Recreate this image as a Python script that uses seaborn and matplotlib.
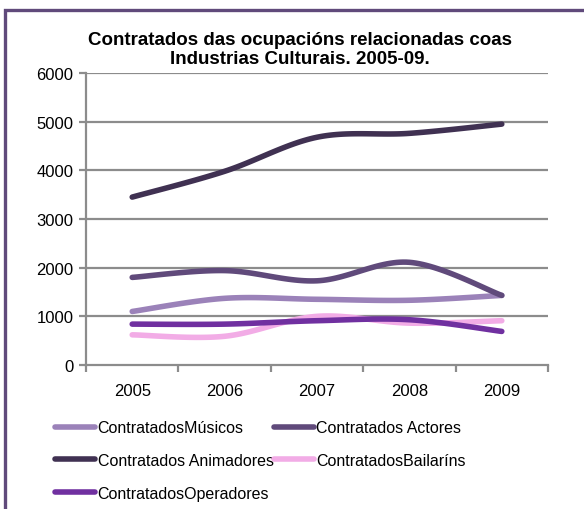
import matplotlib
matplotlib.use("Agg")
import matplotlib.pyplot as plt
import numpy as np
import pandas as pd
import seaborn as sns
from matplotlib.patches import Rectangle
from matplotlib.ticker import FixedLocator

years = [2005, 2006, 2007, 2008, 2009]
musicos = [1100, 1370, 1350, 1330, 1430]
actores = [1800, 1940, 1730, 2110, 1430]
animadores = [3450, 3980, 4680, 4760, 4950]
bailarins = [620, 590, 1000, 860, 910]
operadores = [840, 840, 910, 930, 690]

labels = ["ContratadosMúsicos", "Contratados Actores", "Contratados Animadores",
          "ContratadosBailaríns", "ContratadosOperadores"]
colors = ["#9B82B9", "#604A7B", "#403152", "#F2ACE6", "#7030A0"]
series = [musicos, actores, animadores, bailarins, operadores]
yticks = [0, 1000, 2000, 3000, 4000, 5000, 6000]


def smooth(xs, ys, n=30):
    # curva suavizada tipo Excel (Catmull-Rom -> Bezier), só para debuxar
    xs = np.asarray(xs, float)
    ys = np.asarray(ys, float)
    px = np.concatenate([[xs[0]], xs, [xs[-1]]])
    py = np.concatenate([[ys[0]], ys, [ys[-1]]])
    out_x, out_y = [], []
    t = np.linspace(0, 1, n)
    for i in range(1, len(px) - 2):
        p0, p1, p2, p3 = [np.array([px[j], py[j]]) for j in (i - 1, i, i + 1, i + 2)]
        c1 = p1 + (p2 - p0) / 6
        c2 = p2 - (p3 - p1) / 6
        pts = ((1 - t) ** 3)[:, None] * p1 + (3 * (1 - t) ** 2 * t)[:, None] * c1 \
            + (3 * (1 - t) * t ** 2)[:, None] * c2 + (t ** 3)[:, None] * p2
        out_x.extend(pts[:, 0])
        out_y.extend(pts[:, 1])
    return out_x, out_y


sns.set_style("white")
plt.rcParams["font.family"] = ["Liberation Sans", "DejaVu Sans"]
plt.rcParams["text.color"] = "black"
plt.rcParams["xtick.labelcolor"] = "black"
plt.rcParams["ytick.labelcolor"] = "black"

fig = plt.figure(figsize=(5.84, 5.10), dpi=100)
ax = fig.add_axes([86 / 584, 1 - 366 / 510, (548 - 86) / 584, (366 - 74) / 510])

rows = []
for lab, vals in zip(labels, series):
    sx, sy = smooth(years, vals)
    rows.append(pd.DataFrame({"x": sx, "y": sy, "serie": lab}))
df = pd.concat(rows, ignore_index=True)

for y in yticks[1:]:
    ax.axhline(y, color="#8C8C8C", lw=1.6, zorder=0)

sns.lineplot(data=df, x="x", y="y", hue="serie", hue_order=labels, palette=colors,
             sort=False, estimator=None, lw=4, solid_capstyle="round", ax=ax, legend=False)

ax.set_xlim(2004.5, 2009.5)
ax.set_ylim(0, 6000)
ax.set_yticks(yticks)
ax.set_xticks(years)
ax.set_xticklabels([str(y) for y in years])
ax.xaxis.set_minor_locator(FixedLocator([2004.5, 2005.5, 2006.5, 2007.5, 2008.5, 2009.5]))
ax.tick_params(axis="x", which="major", length=0, pad=13, labelsize=12, labelcolor="black")
ax.tick_params(axis="x", which="minor", length=5, width=1.6, color="#8C8C8C", direction="out", bottom=True)
ax.tick_params(axis="y", length=5, width=1.6, color="#8C8C8C", direction="out", left=True,
               labelsize=12, pad=4, labelcolor="black")
ax.set_xlabel("")
ax.set_ylabel("")
for s in ["top", "right"]:
    ax.spines[s].set_visible(False)
for s in ["left", "bottom"]:
    ax.spines[s].set_color("#8C8C8C")
    ax.spines[s].set_linewidth(1.6)

fig.text(300 / 584, 1 - 50 / 510, "Contratados das ocupacións relacionadas coas\nIndustrias Culturais. 2005-09.",
         ha="center", va="center", fontsize=13.5, fontweight="bold", linespacing=1.2, color="black")

# orde por filas: a lenda de matplotlib enche por columnas
order = [0, 2, 4, 1, 3]
handles = [plt.Line2D([0], [0], color=colors[i], lw=4, solid_capstyle="round") for i in order]
fig.legend(handles, [labels[i] for i in order], ncol=2, loc="upper left",
           bbox_to_anchor=(41 / 584, 1 - 407 / 510),
           frameon=False, fontsize=11.5, handlelength=2.5, handletextpad=0.15,
           columnspacing=0.0, labelspacing=1.1, labelcolor="black")

fig.add_artist(Rectangle((5 / 584, -0.1), 1.2, 1.1 - 11 / 510, transform=fig.transFigure,
                         fill=False, edgecolor="#604A7B", lw=2.4))

fig.savefig("out.png", dpi=100)
